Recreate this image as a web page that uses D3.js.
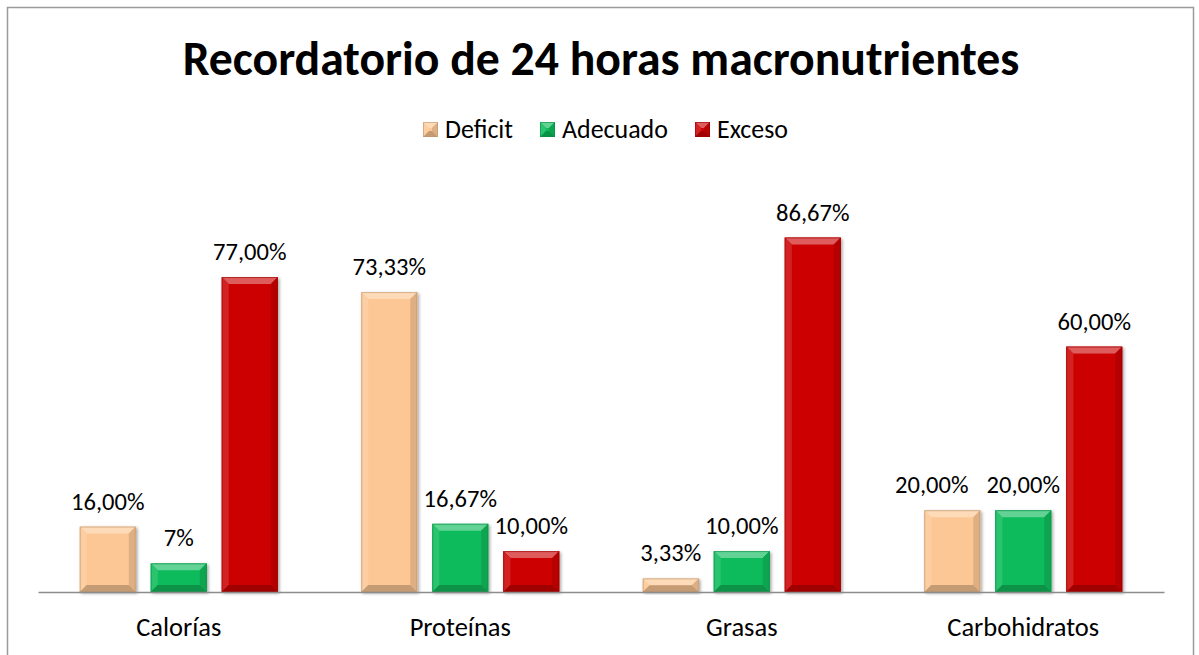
<!DOCTYPE html>
<html><head><meta charset="utf-8">
<script src="https://cdn.jsdelivr.net/npm/d3@7"></script>
<style>
html,body{margin:0;padding:0;background:#fff;}
svg{display:block;}
text{font-family:Carlito, Calibri, Lato, sans-serif;fill:#000;}
</style></head>
<body>
<svg id="chart" width="1199" height="655"></svg>
<script>
const title = "Recordatorio de 24 horas macronutrientes";
const categories = ["Calorías", "Proteínas", "Grasas", "Carbohidratos"];
const series = ["Deficit", "Adecuado", "Exceso"];
const deficit = [16.00, 73.33, 3.33, 20.00];
const adecuado = [7, 16.67, 10.00, 20.00];
const exceso = [77.00, 10.00, 86.67, 60.00];
const deficitLabels = ["16,00%", "73,33%", "3,33%", "20,00%"];
const adecuadoLabels = ["7%", "16,67%", "10,00%", "20,00%"];
const excesoLabels = ["77,00%", "10,00%", "86,67%", "60,00%"];
const colors = ["#FCC794", "#0DBB5B", "#CC0404"];

const values = [deficit, adecuado, exceso];
const labels = [deficitLabels, adecuadoLabels, excesoLabels];

const svg = d3.select("#chart");

function fitSize(sample, target, weight) {
  const tt = svg.append("text").style("font-size", "20px").style("font-weight", weight || "normal").text(sample);
  const w = tt.node().getComputedTextLength();
  tt.remove();
  return 20 * target / w;
}
const titleSize = fitSize(title, 837, "bold");
const valueSize = fitSize("77,00%", 73.5);
const catSize = fitSize("Carbohidratos", 152);
const legSize = fitSize("Adecuado", 106);

// frame
svg.append("rect").attr("x", 7.5).attr("y", 7.5).attr("width", 1186).attr("height", 700)
  .attr("fill", "#fff").attr("stroke", "#9a9a9a").attr("stroke-width", 1.5);

const x0 = d3.scaleBand().domain(categories).range([38, 1164]).padding(0);
const x1 = d3.scaleBand().domain(series).range([-99, 99]).paddingInner(15/71).paddingOuter(0);
const y = d3.scaleLinear().domain([0, 100]).range([592, 183]);

function shade(c, k) {
  if (k > 0) return d3.interpolateRgb(c, "#ffffff")(k);
  return d3.interpolateRgb(c, "#000000")(-k);
}

function bevelBar(g, x, yy, w, h, color, bv) {
  const b = Math.min(bv, h / 2, w / 2);
  g.append("rect").attr("x", x).attr("y", yy).attr("width", w).attr("height", h).attr("fill", color);
  const poly = (pts, fill) => g.append("polygon").attr("points", pts.map(p => p.join(",")).join(" ")).attr("fill", fill);
  poly([[x, yy], [x + w, yy], [x + w - b, yy + b], [x + b, yy + b]], shade(color, 0.35));
  poly([[x, yy], [x + b, yy + b], [x + b, yy + h - b], [x, yy + h]], shade(color, 0.12));
  poly([[x + w, yy], [x + w - b, yy + b], [x + w - b, yy + h - b], [x + w, yy + h]], shade(color, -0.12));
  poly([[x, yy + h], [x + b, yy + h - b], [x + w - b, yy + h - b], [x + w, yy + h]], shade(color, -0.22));
  g.append("rect").attr("x", x + 0.5).attr("y", yy + 0.5).attr("width", Math.max(0, w - 1)).attr("height", Math.max(0, h - 1))
    .attr("fill", "none").attr("stroke", shade(color, -0.25)).attr("stroke-width", 1).attr("stroke-opacity", 0.6);
}

const defs = svg.append("defs");
const f = defs.append("filter").attr("id", "sh").attr("x", "-20%").attr("y", "-20%").attr("width", "140%").attr("height", "140%");
f.append("feDropShadow").attr("dx", 1.5).attr("dy", 1.5).attr("stdDeviation", 1.5).attr("flood-color", "#000").attr("flood-opacity", 0.35);

// title
svg.append("text").attr("x", 601).attr("y", 75).attr("text-anchor", "middle")
  .style("font-weight", "bold").style("font-size", titleSize + "px").text(title);

// legend
const legendItems = [
  {s: 0, mx: 423, tx: 445},
  {s: 1, mx: 540, tx: 562},
  {s: 2, mx: 695, tx: 717}
];
legendItems.forEach(li => {
  const g = svg.append("g");
  bevelBar(g, li.mx, 122, 15, 15, colors[li.s], 6);
  svg.append("text").attr("x", li.tx).attr("y", 137.5).style("font-size", legSize + "px").text(series[li.s]);
});

// bars
categories.forEach((cat, ci) => {
  const cx = x0(cat) + x0.bandwidth() / 2;
  const texts = [];
  series.forEach((s, si) => {
    const v = values[si][ci];
    const bx = cx + x1(s);
    const w = x1.bandwidth();
    const top = y(v);
    const h = y(0) - top;
    const g = svg.append("g").attr("filter", "url(#sh)");
    bevelBar(g, bx, top, w, h, colors[si], 7);
    const t = svg.append("text").attr("x", bx + w / 2).attr("y", top - 17).attr("text-anchor", "middle")
      .style("font-size", valueSize + "px").text(labels[si][ci]);
    texts.push({t, cx: bx + w / 2, top});
  });
  // nudge overlapping labels (same height) leftwards, as in the original
  for (let i = texts.length - 2; i >= 0; i--) {
    const a = texts[i], b = texts[i + 1];
    if (Math.abs(a.top - b.top) < 20) {
      const bb = a.t.node().getBBox(), nb = b.t.node().getBBox();
      const overlap = bb.x + bb.width + 18 - nb.x;
      if (overlap > 0) a.t.attr("x", a.cx - overlap);
    }
  }
});

// axis
const axis = svg.append("g").attr("transform", "translate(0,592)")
  .call(d3.axisBottom(x0).tickSize(0).tickPadding(0));
axis.select(".domain").attr("stroke", "#8c8c8c").attr("stroke-width", 1.5);
axis.selectAll(".tick text").attr("dy", null).attr("y", 44)
  .style("font-size", catSize + "px").style("font-family", "Carlito, Calibri, Lato, sans-serif").attr("fill", "#000");
</script>
</body></html>
